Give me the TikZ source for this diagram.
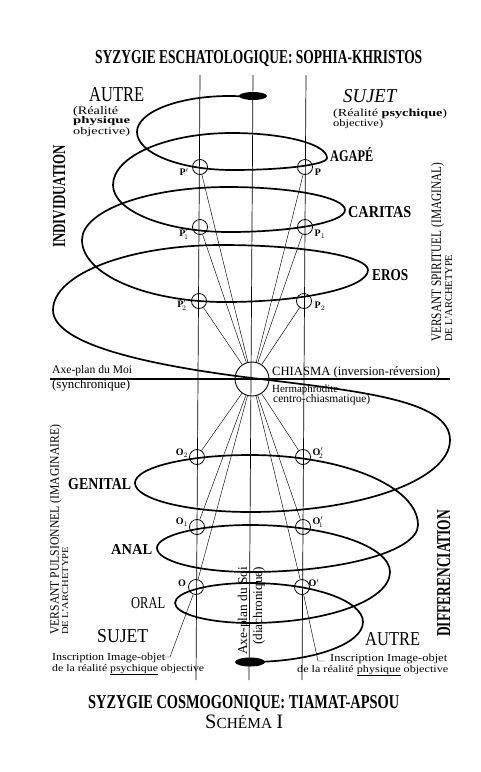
\documentclass[tikz,border=0pt]{standalone}
\usepackage{fontspec}
\setmainfont{Liberation Serif}
\usetikzlibrary{shapes.geometric}
\newcommand{\fitbox}[3]{\resizebox{#1pt}{#2pt}{#3}}
\newcommand{\fitw}[2]{\resizebox{#1pt}{!}{#2}}
\begin{document}
\begin{tikzpicture}[x=1pt,y=1pt,
  spiral/.style={line width=1.7pt, line join=round},
  vline/.style={line width=0.7pt},
  ray/.style={line width=0.45pt},
  smallc/.style={circle, draw, line width=0.8pt, minimum size=15pt, inner sep=0pt},
  chic/.style={circle, draw, line width=0.9pt, minimum size=34pt, inner sep=0pt},
  blobst/.style={ellipse, fill=black, minimum width=28pt, minimum height=8pt, inner sep=0pt},
  lbl/.style={inner sep=0pt, anchor=base west},
  plbl/.style={inner sep=0pt, font=\bfseries\fontsize{10}{10}\selectfont},
]
\useasboundingbox (0,0) rectangle (480,-772);
\fill[white] (0,0) rectangle (480,-772);

% vertical axes
\coordinate (vlt) at (200,-75); \coordinate (vlb) at (196,-680);
\coordinate (vct) at (253,-75); \coordinate (vcb) at (249,-680);
\coordinate (vrt) at (306,-75); \coordinate (vrb) at (302,-680);
\draw[vline] (vlt) -- (vlb);
\draw[vline] (vct) -- (vcb);
\draw[vline] (vrt) -- (vrb);

% horizontal axis
\coordinate (hl) at (50,-379); \coordinate (hr) at (450,-379);
\draw[line width=1.1pt] (hl) -- (hr);

% circles
\node[chic] (chi) at (252,-379) {};
\node[smallc] (p0) at (200,-167) {};
\node[smallc] (p1) at (200,-227) {};
\node[smallc] (p2) at (199,-301) {};
\node[smallc] (q0) at (305,-167) {};
\node[smallc] (q1) at (305,-227) {};
\node[smallc] (q2) at (304,-301) {};
\node[smallc] (o2) at (197,-457) {};
\node[smallc] (o1) at (197,-527) {};
\node[smallc] (o0) at (196,-587) {};
\node[smallc] (r2) at (303,-457) {};
\node[smallc] (r1) at (303,-527) {};
\node[smallc] (r0) at (302,-587) {};

% rays
\foreach \n in {p0,p1,p2,q0,q1,q2,o2,o1,o0,r2,r1,r0} \draw[ray] (chi) -- (\n);

% leaders
\coordinate (ll) at (170,-657); \coordinate (llh) at (164,-657);
\coordinate (lr) at (318,-661); \coordinate (lrh) at (325,-661);
\draw[ray] (o0) -- (ll) -- (llh);
\draw[ray] (r0) -- (lr) -- (lrh);

% spiral
\draw[spiral] (252.81,-97.23)
  arc[start angle=75, end angle=180, x radius=92, y radius=36]
  arc[start angle=180, end angle=270, x radius=95, y radius=38]
  arc[start angle=270, end angle=360, x radius=95, y radius=12]
  arc[start angle=0, end angle=90, x radius=95, y radius=25]
  arc[start angle=90, end angle=180, x radius=119, y radius=52]
  arc[start angle=180, end angle=270, x radius=116, y radius=47]
  arc[start angle=270, end angle=360, x radius=116, y radius=22]
  arc[start angle=0, end angle=90, x radius=117, y radius=23]
  arc[start angle=90, end angle=180, x radius=146, y radius=53]
  arc[start angle=180, end angle=270, x radius=143, y radius=62]
  arc[start angle=270, end angle=360, x radius=143, y radius=32]
  arc[start angle=0, end angle=90, x radius=146, y radius=25]
  arc[start angle=90, end angle=180, x radius=169, y radius=65]
  .. controls (53,-345) and (152.7,-365.8) .. (252,-378)
  .. controls (361,-391.4) and (450,-400) .. (450,-440)
  arc[start angle=0, end angle=-90, x radius=200, y radius=72]
  arc[start angle=-90, end angle=-180, x radius=115, y radius=29]
  arc[start angle=180, end angle=90, x radius=115, y radius=28]
  arc[start angle=90, end angle=0, x radius=168, y radius=70]
  arc[start angle=0, end angle=-90, x radius=168, y radius=47]
  arc[start angle=-90, end angle=-180, x radius=93, y radius=24]
  arc[start angle=180, end angle=90, x radius=93, y radius=23]
  arc[start angle=90, end angle=0, x radius=140, y radius=47]
  arc[start angle=0, end angle=-90, x radius=140, y radius=51]
  arc[start angle=-90, end angle=-180, x radius=75, y radius=20]
  arc[start angle=180, end angle=90, x radius=75, y radius=20]
  arc[start angle=90, end angle=0, x radius=113, y radius=39]
  arc[start angle=0, end angle=-90, x radius=113, y radius=40];

% blobs
\node[blobst] (btop) at (253,-96) {};
\node[blobst, minimum width=30pt, minimum height=9pt] (bbot) at (250,-662) {};

% point labels
\node[plbl] (lp0) at (184,-172) {P$'$};
\node[plbl] (lq0) at (318,-172) {P};
\node[plbl] (lp1) at (184,-234) {P$'_{\!1}$};
\node[plbl] (lq1) at (320,-234) {P$_1$};
\node[plbl] (lp2) at (182,-305) {P$'_{\!2}$};
\node[plbl] (lq2) at (320,-306) {P$_2$};
\node[plbl] (lo2) at (182,-453) {O$_2$};
\node[plbl] (lr2) at (318,-453) {O$'_{\!2}$};
\node[plbl] (lo1) at (182,-522) {O$_1$};
\node[plbl] (lr1) at (318,-522) {O$'_{\!1}$};
\node[plbl] (lo0) at (182,-583) {O};
\node[plbl] (lr0) at (314,-583) {O$'$};

% titles
\node[lbl] (t1) at (95,-63) {\fitbox{327}{13}{\bfseries SYZYGIE ESCHATOLOGIQUE: SOPHIA-KHRISTOS}};
\node[lbl] (t2) at (88,-708) {\fitbox{311}{13}{\bfseries SYZYGIE COSMOGONIQUE: TIAMAT-APSOU}};
\node[lbl] (schema) at (205,-728) {\fitw{78}{{\fontsize{12}{12}\selectfont S}{\fontsize{9}{9}\selectfont CHÉMA} {\fontsize{12}{12}\selectfont I}}};

% top left / right
\node[lbl] (autre1) at (89,-101) {\fitbox{55}{14}{AUTRE}};
\node[lbl] (rl1) at (73,-114) {\fitbox{45}{8}{(Réalité}};
\node[lbl] (rl2) at (73,-123.5) {\fitbox{57}{7}{\bfseries physique}};
\node[lbl] (rl3) at (73,-134) {\fitbox{57}{7}{objective)}};
\node[lbl] (sujet1) at (343,-102.5) {\fitbox{53}{13}{\itshape SUJET}};
\node[lbl] (rr1) at (333,-116) {\fitbox{114}{7.5}{(Réalité \textbf{psychique})}};
\node[lbl] (rr2) at (333,-126) {\fitbox{50}{7}{objective)}};

% ring names
\node[lbl] (agape) at (330,-161) {\fitbox{43}{14}{\bfseries AGAPÉ}};
\node[lbl] (caritas) at (348,-217) {\fitbox{63}{11}{\bfseries CARITAS}};
\node[lbl] (eros) at (372,-280) {\fitbox{36}{11}{\bfseries EROS}};
\node[lbl] (genital) at (68,-489) {\fitbox{63}{11}{\bfseries GENITAL}};
\node[lbl] (anal) at (111,-554) {\fitbox{41}{10}{\bfseries ANAL}};
\node[lbl] (oral) at (131,-608) {\fitbox{34}{11}{ORAL}};

% centre labels
\node[lbl] (moi1) at (52,-373) {\fitw{80}{Axe-plan du Moi}};
\node[lbl] (moi2) at (52,-388) {\fitw{78}{(synchronique)}};
\node[lbl] (chtxt) at (272,-375) {\fitw{168}{CHIASMA (inversion-réversion)}};
\node[lbl] (herm1) at (272,-392) {\fitw{66}{Hermaphrodite}};
\node[lbl] (herm2) at (273,-402) {\fitw{97}{centro-chiasmatique)}};

% vertical labels
\node[lbl, rotate=90] (indiv) at (65,-248) {\fitbox{103}{12}{\bfseries INDIVIDUATION}};
\node[lbl, rotate=90] (vsp1) at (441,-342) {\fitbox{179}{10}{VERSANT SPIRITUEL (IMAGINAL)}};
\node[lbl, rotate=90] (vsp2) at (452,-342) {\fitbox{87}{7}{DE L'ARCHETYPE}};
\node[lbl, rotate=90] (vpu1) at (59,-635) {\fitbox{210}{9}{VERSANT PULSIONNEL (IMAGINAIRE)}};
\node[lbl, rotate=90] (vpu2) at (68,-635) {\fitbox{88}{6}{DE L'ARCHETYPE}};
\node[lbl, rotate=90] (diff) at (450,-637) {\fitbox{127}{13}{\bfseries DIFFERENCIATION}};
\node[lbl, rotate=90] (soi1) at (247,-655) {\fitw{88}{Axe-plan du Soi}};
\node[lbl, rotate=90] (soi2) at (262,-645) {\fitw{78}{(diachronique)}};

% bottom labels
\node[lbl] (sujet2) at (97,-642) {\fitbox{51}{13}{SUJET}};
\node[lbl] (autre2) at (365,-645) {\fitbox{55}{13}{AUTRE}};
\node[lbl] (insl1) at (52,-660) {\fitbox{113}{7.5}{Inscription Image-objet}};
\node[lbl] (insl2) at (52,-671) {\fitbox{152}{7}{de la réalité \underline{psychique} objective}};
\node[lbl] (insr1) at (330,-661) {\fitbox{117}{7.5}{Inscription Image-objet}};
\node[lbl] (insr2) at (297,-672) {\fitbox{151}{7}{de la réalité \underline{physique} objective}};
\end{tikzpicture}
\end{document}
